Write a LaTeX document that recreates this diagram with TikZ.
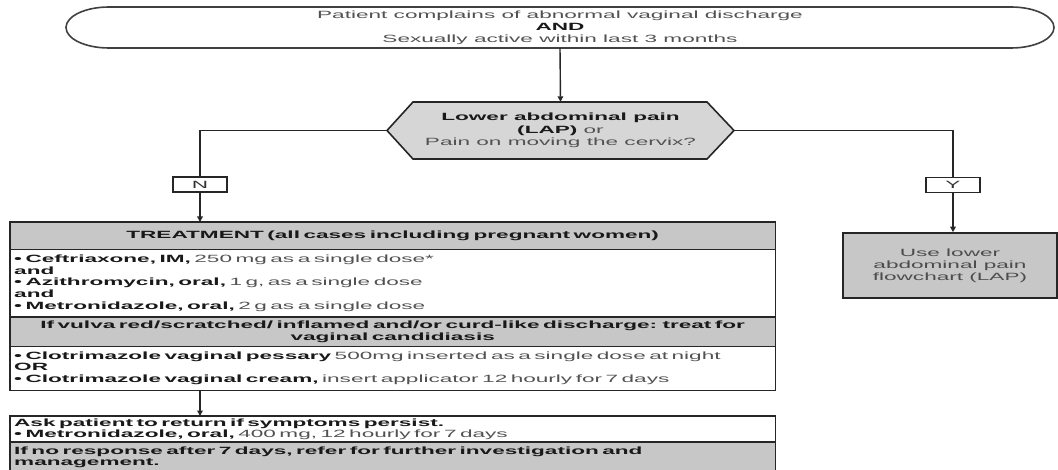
\documentclass[tikz,border=0pt]{standalone}
\usepackage{fontspec}
\setmainfont{Liberation Sans}
\newfontfamily\wf[FakeStretch=2.15]{Liberation Sans}
\usetikzlibrary{arrows.meta}
\newcommand\bd[1]{\textbf{\color{black!90}#1}}
\begin{document}
\begin{tikzpicture}[x=1pt,y=-1pt,
  txt/.style={font=\wf\fontsize{10.5}{12}\selectfont, text=black!68, inner sep=0pt},
  sec/.style={txt, anchor=north west, minimum width=765pt, inner xsep=4pt},
  grayfill/.style={fill=black!22},
  frame/.style={draw=black!85, line width=1.7pt},
  conn/.style={draw=black!85, line width=1.4pt},
  arr/.style={conn, -{Triangle[length=5.5pt,width=5.5pt]}},
  lab/.style={txt, draw=black!85, line width=1.4pt, minimum width=54pt, minimum height=15pt, text=black!80}]
\useasboundingbox (0,0) rectangle (1058,470);
\fill[white] (0,0) rectangle (1058,470);

% top box
\node[txt, align=center, minimum width=988pt, minimum height=41pt] (topbox) at (560,27.5)
  {Patient complains of abnormal vaginal discharge\\\bd{AND}\\Sexually active within last 3 months};
\draw[draw=black!75, line width=1.6pt] (109,7) -- (1011,7)
  arc[start angle=90, end angle=-90, x radius=43pt, y radius=20.5pt] -- (109,48)
  arc[start angle=270, end angle=90, x radius=43pt, y radius=20.5pt] -- cycle;

% hexagon decision
\fill[black!16, draw=black!85, line width=1.6pt] (387,130.5) -- (413,102) -- (707,102) -- (734,130.5) -- (707,159) -- (413,159) -- cycle;
\node[txt, align=center, minimum width=347pt, minimum height=57pt, font=\wf\fontsize{10.5}{12.5}\selectfont] (hex) at (560.5,130.5)
  {\bd{Lower abdominal pain}\\\bd{(LAP)} or\\Pain on moving the cervix?};
\draw[arr] (topbox.south) -- (hex.north);

% labels
\node[lab] (N) at (200,184.5) {N};
\node[lab] (Y) at (953,185) {Y};
\draw[conn] (hex.west) -| (N.north);
\draw[conn] (hex.east) -| (Y.north);

% right box
\node[txt, grayfill, draw=black!85, line width=1.6pt, align=center, minimum width=214pt, minimum height=65pt, text=black!70] (R) at (950,265.5)
  {Use lower\\abdominal pain\\flowchart (LAP)};
\draw[arr] (Y.south) -- (Y.south |- R.north);

% treatment box
\node[sec, grayfill, minimum height=27pt, align=center, text width=757pt] (t1) at (10,222)
  {\bd{TREATMENT (all cases including pregnant women)}};
\node[sec, minimum height=68pt, align=left, text width=757pt, font=\wf\fontsize{10.5}{11.8}\selectfont] (t2) at (10,249)
  {\bd{• Ceftriaxone, IM,} 250 mg as a single dose*\\\bd{and}\\\bd{• Azithromycin, oral,} 1 g, as a single dose\\\bd{and}\\\bd{• Metronidazole, oral,} 2 g as a single dose};
\node[sec, grayfill, minimum height=29pt, align=center, text width=757pt, font=\wf\fontsize{10.5}{12.5}\selectfont] (t3) at (10,317)
  {\bd{If vulva red/scratched/ inflamed and/or curd-like discharge: treat for}\\\bd{vaginal candidiasis}};
\node[sec, minimum height=44pt, align=left, text width=757pt, font=\wf\fontsize{10.5}{11.5}\selectfont] (t4) at (10,346)
  {\bd{• Clotrimazole vaginal pessary} 500mg inserted as a single dose at night\\\bd{OR}\\\bd{• Clotrimazole vaginal cream,} insert applicator 12 hourly for 7 days};
\draw[draw=black!85, line width=1.2pt] (t1.south west) -- (t1.south east);
\draw[draw=black!85, line width=1.2pt] (t3.north west) -- (t3.north east) (t3.south west) -- (t3.south east);
\draw[frame] (t1.north west) rectangle (t4.south east);
\draw[arr] (N.south) -- (N.south |- t1.north);

% bottom box
\node[sec, minimum height=26pt, align=left, text width=757pt, font=\wf\fontsize{10.5}{11}\selectfont] (b1) at (10,416)
  {\bd{Ask patient to return if symptoms persist.}\\\bd{• Metronidazole, oral,} 400 mg, 12 hourly for 7 days};
\node[sec, grayfill, minimum height=30pt, align=left, text width=757pt, font=\wf\fontsize{10.5}{11}\selectfont] (b2) at (10,442)
  {\bd{If no response after 7 days, refer for further investigation and}\\\bd{management.}};
\draw[draw=black!85, line width=1.2pt] (b2.north west) -- (b2.north east);
\draw[frame] (b1.north west) rectangle (b2.south east);
\draw[arr] (N.south |- t4.south) -- (N.south |- b1.north);
\end{tikzpicture}
\end{document}
